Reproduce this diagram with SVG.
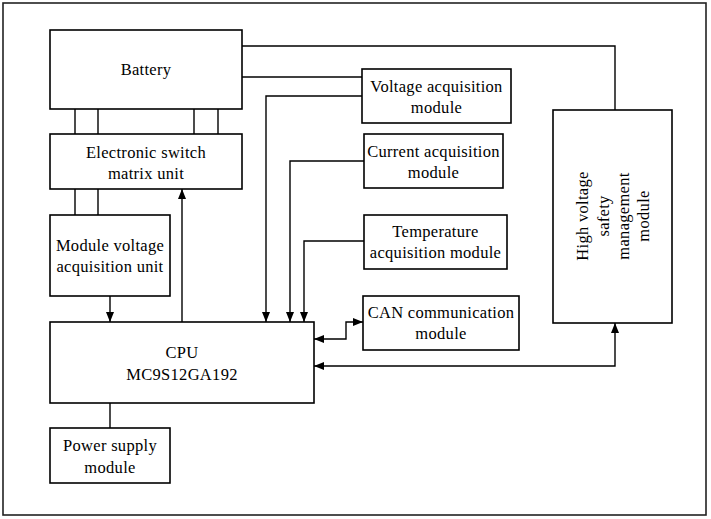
<svg xmlns="http://www.w3.org/2000/svg" width="711" height="519" viewBox="0 0 711 519">
<defs>
<marker id="ah" viewBox="0 0 10 8" refX="10" refY="4" markerWidth="10" markerHeight="8" markerUnits="userSpaceOnUse" orient="auto-start-reverse">
<path d="M0,0 L10,4 L0,8 Z" fill="#000"/>
</marker>
</defs>
<style>
.box{fill:#fff;stroke:#000;stroke-width:1.6}
.t{font-family:"Liberation Serif","Times New Roman",serif;font-size:16.5px;letter-spacing:0.3px;fill:#000;text-anchor:middle}
.c{fill:none;stroke:#000;stroke-width:1.4}
.frame{fill:none;stroke:#222;stroke-width:1.6}
</style>
<rect width="711" height="519" fill="#fff"/>
<rect class="frame" x="3" y="3" width="703" height="512"/>
<g id="connectors">
<path class="c" d="M242,46 H615 V110"/>
<path class="c" d="M242,77 H362"/>
<path class="c" d="M362,96 H266 V322" marker-end="url(#ah)"/>
<path class="c" d="M364,161 H290 V322" marker-end="url(#ah)"/>
<path class="c" d="M364,241 H304 V322" marker-end="url(#ah)"/>
<path class="c" d="M182,322 V189" marker-end="url(#ah)"/>
<path class="c" d="M110,296 V322" marker-end="url(#ah)"/>
<path class="c" d="M75,109 V134 M98,109 V134 M194,109 V134 M218,109 V134"/>
<path class="c" d="M75,189 V215 M98,189 V215"/>
<path class="c" d="M110,403 V428"/>
<path class="c" d="M314,339 H346 V322 H363" marker-start="url(#ah)" marker-end="url(#ah)"/>
<path class="c" d="M314,366 H615 V323" marker-start="url(#ah)" marker-end="url(#ah)"/>
</g>
<g id="battery">
<rect class="box" x="50" y="30" width="192" height="79"/>
<text class="t" x="146" y="75">Battery</text>
</g>
<g id="switch">
<rect class="box" x="50" y="134" width="192" height="55"/>
<text class="t" x="146" y="158">Electronic switch</text>
<text class="t" x="146" y="179">matrix unit</text>
</g>
<g id="module-voltage">
<rect class="box" x="50" y="215" width="120" height="81"/>
<text class="t" x="110" y="251">Module voltage</text>
<text class="t" x="110" y="272">acquisition unit</text>
</g>
<g id="cpu">
<rect class="box" x="50" y="322" width="264" height="81"/>
<text class="t" x="182" y="358">CPU</text>
<text class="t" x="182" y="380">MC9S12GA192</text>
</g>
<g id="power">
<rect class="box" x="50" y="428" width="120" height="55"/>
<text class="t" x="110" y="451">Power supply</text>
<text class="t" x="110" y="473">module</text>
</g>
<g id="voltage-acq">
<rect class="box" x="362" y="69" width="149" height="54"/>
<text class="t" x="436.5" y="92">Voltage acquisition</text>
<text class="t" x="436.5" y="113">module</text>
</g>
<g id="current-acq">
<rect class="box" x="364" y="134" width="139" height="54"/>
<text class="t" x="433.5" y="157">Current acquisition</text>
<text class="t" x="433.5" y="178">module</text>
</g>
<g id="temp-acq">
<rect class="box" x="364" y="215" width="143" height="54"/>
<text class="t" x="435.5" y="237">Temperature</text>
<text class="t" x="435.5" y="258">acquisition module</text>
</g>
<g id="can">
<rect class="box" x="363" y="296" width="156" height="54"/>
<text class="t" x="441" y="318">CAN communication</text>
<text class="t" x="441" y="339">module</text>
</g>
<g id="hv">
<rect class="box" x="553" y="110" width="119" height="213"/>
<g transform="translate(612,216) rotate(-90)">
<text class="t" x="0" y="-24" letter-spacing="1.5">High voltage</text>
<text class="t" x="0" y="-3" letter-spacing="1.5">safety</text>
<text class="t" x="0" y="17" letter-spacing="1.5">management</text>
<text class="t" x="0" y="37" letter-spacing="1.5">module</text>
</g>
</g>
</svg>
